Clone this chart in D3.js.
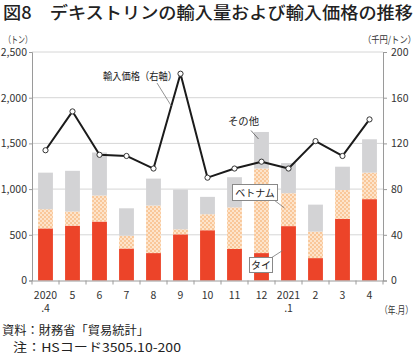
<!DOCTYPE html>
<html><head><meta charset="utf-8">
<script src="https://cdn.jsdelivr.net/npm/d3@7"></script>
<style>
html,body{margin:0;padding:0;background:#fff;}
svg{display:block;font-family:"Noto Sans CJK JP","Noto Sans",sans-serif;}
</style></head>
<body>
<svg id="c" width="420" height="356"></svg>
<script>
// ---- data ----
const categories = ["2020.4","2020.5","2020.6","2020.7","2020.8","2020.9","2020.10","2020.11","2020.12","2021.1","2021.2","2021.3","2021.4"];
const tickLine1 = ["2020","5","6","7","8","9","10","11","12","2021","2","3","4"];
const tickLine2 = [".4","","","","","","","","",".1","","",""];
const thai    = [570,600,645,350,300,505,550,345,300,595,245,675,890];
const vietnam = [210,155,285,140,520, 55,175,455,925,360,290,315,290];
const other   = [400,445,470,300,295,435,190,330,400,330,295,255,365];
const price   = [114,148,110,109, 98,181, 90, 98,104, 98,122,109,141];
const leftTicks  = [0,500,1000,1500,2000,2500];
const rightTicks = [0,40,80,120,160,200];

const svg = d3.select("#c");
const FONT = '"Noto Sans CJK JP","Noto Sans",sans-serif';
const L = 32, R = 383, T = 52, B = 280.5;

const x = d3.scaleBand().domain(categories).range([L, R]).paddingInner(0.45).paddingOuter(0.225);
const xb = d3.scaleBand().domain(categories).range([L, R]);
const yL = d3.scaleLinear().domain([0, 2500]).range([B, T]);
const yR = d3.scaleLinear().domain([0, 200]).range([B, T]);

// pattern for Vietnam
const defs = svg.append("defs");
const pat = defs.append("pattern").attr("id","dots").attr("patternUnits","userSpaceOnUse")
  .attr("width",4).attr("height",4);
pat.append("rect").attr("width",4).attr("height",4).attr("fill","#fde4cb");
pat.append("circle").attr("cx",1).attr("cy",1).attr("r",1).attr("fill","#f8bd88");
pat.append("circle").attr("cx",3).attr("cy",3).attr("r",1).attr("fill","#f8bd88");

// title
svg.append("text").attr("x",3).attr("y",19).attr("font-size",17).attr("font-weight",500)
  .attr("fill","#222").attr("textLength",410).attr("lengthAdjust","spacingAndGlyphs")
  .text("図8　デキストリンの輸入量および輸入価格の推移");

// gridlines
svg.append("g").selectAll("line").data(leftTicks.slice(1)).join("line")
  .attr("x1",L).attr("x2",R).attr("y1",d=>yL(d)).attr("y2",d=>yL(d))
  .attr("stroke","#d6d6d6").attr("stroke-width",1);

// stacked bars
const stackData = categories.map((c,i)=>({cat:c, thai:thai[i], vietnam:vietnam[i], other:other[i]}));
const series = d3.stack().keys(["thai","vietnam","other"])(stackData);
const fills = {thai:"#ec4429", vietnam:"url(#dots)", other:"#d3d3d5"};
svg.append("g").selectAll("g").data(series).join("g")
  .attr("fill", d=>fills[d.key])
  .selectAll("rect").data(d=>d).join("rect")
  .attr("x", d=>x(d.data.cat)).attr("width", x.bandwidth())
  .attr("y", d=>yL(d[1])).attr("height", d=>yL(d[0])-yL(d[1]));

// left axis
const axL = svg.append("g").attr("transform",`translate(${L},0)`)
  .call(d3.axisLeft(yL).tickValues(leftTicks).tickSize(3).tickPadding(2).tickFormat(d3.format(",")));
// right axis
const axR = svg.append("g").attr("transform",`translate(${R},0)`)
  .call(d3.axisRight(yR).tickValues(rightTicks).tickSize(4).tickPadding(4));
// bottom axis
const axB = svg.append("g").attr("transform",`translate(0,${B})`)
  .call(d3.axisBottom(xb).tickSize(0).tickFormat(""));
[axL,axR,axB].forEach(a=>{
  a.select(".domain").attr("stroke","#9a9a9a");
  a.selectAll(".tick line").attr("stroke","#9a9a9a");
  a.selectAll("text").attr("font-family",FONT).attr("font-size",10.5).attr("fill","#333");
});
// x tick marks at band boundaries
svg.append("g").selectAll("line").data(categories).join("line")
  .attr("x1",d=>xb(d)).attr("x2",d=>xb(d)).attr("y1",B).attr("y2",B+4)
  .attr("stroke","#9a9a9a");
svg.append("line").attr("x1",R).attr("x2",R).attr("y1",B).attr("y2",B+4).attr("stroke","#9a9a9a");
// x labels
const xl = svg.append("g").attr("font-size",10.5).attr("fill","#333").attr("text-anchor","middle");
xl.selectAll("text.l1").data(categories).join("text").attr("class","l1")
  .attr("x",d=>xb(d)+xb.bandwidth()/2).attr("y",B+18).text((d,i)=>tickLine1[i]);
xl.selectAll("text.l2").data(categories).join("text").attr("class","l2")
  .attr("x",d=>xb(d)+xb.bandwidth()/2).attr("y",B+31).text((d,i)=>tickLine2[i]);

// unit labels
svg.append("text").attr("x",4).attr("y",43).attr("font-size",9.5).attr("fill","#333")
  .attr("textLength",28).attr("lengthAdjust","spacingAndGlyphs").text("（トン）");
svg.append("text").attr("x",363).attr("y",43).attr("font-size",9.5).attr("fill","#333")
  .attr("textLength",53).attr("lengthAdjust","spacingAndGlyphs").text("（千円/トン）");
svg.append("text").attr("x",380).attr("y",314).attr("font-size",10).attr("fill","#333")
  .attr("textLength",33).attr("lengthAdjust","spacingAndGlyphs").text("（年.月）");

// price line
const cx = c => xb(c)+xb.bandwidth()/2;
const line = d3.line().x((d,i)=>cx(categories[i])).y(d=>yR(d));
svg.append("path").datum(price).attr("d",line).attr("fill","none")
  .attr("stroke","#1b1b1b").attr("stroke-width",2).attr("stroke-linejoin","round");
svg.append("g").selectAll("circle").data(price).join("circle")
  .attr("cx",(d,i)=>cx(categories[i])).attr("cy",d=>yR(d)).attr("r",2.6)
  .attr("fill","#fff").attr("stroke","#333").attr("stroke-width",1);

// annotations: leader lines
const t = 0.66, i8 = 4, i9 = 5;
const px = cx(categories[i8]) + t*(cx(categories[i9])-cx(categories[i8]));
const py = yR(price[i8]) + t*(yR(price[i9])-yR(price[i8]));
const c12 = categories[8];
const c21 = categories[9];
svg.append("line").attr("x1",157).attr("y1",83).attr("x2",px).attr("y2",py).attr("stroke","#777").attr("stroke-width",0.8);
svg.append("line").attr("x1",251).attr("y1",130.5).attr("x2",cx(c12)-3).attr("y2",yL(thai[8]+vietnam[8]+other[8])+7)
  .attr("stroke","#555").attr("stroke-width",0.8);
svg.append("line").attr("x1",274).attr("y1",200).attr("x2",cx(c21)-4).attr("y2",yL(thai[9]+vietnam[9]*0.55))
  .attr("stroke","#777").attr("stroke-width",0.8);
svg.append("line").attr("x1",271).attr("y1",258).attr("x2",cx(c21)-6).attr("y2",yL(thai[9]*0.55))
  .attr("stroke","#777").attr("stroke-width",0.8);
// boxes
svg.append("rect").attr("x",232.5).attr("y",184.5).attr("width",45).attr("height",16)
  .attr("fill","#fff").attr("stroke","#888").attr("stroke-width",1);
svg.append("rect").attr("x",249.5).attr("y",257.5).attr("width",23).attr("height",15)
  .attr("fill","#fff").attr("stroke","#888").attr("stroke-width",1);
// texts
const ann = svg.append("g").attr("font-size",10.5).attr("fill","#222");
ann.append("text").attr("x",103).attr("y",80).attr("textLength",74).attr("lengthAdjust","spacingAndGlyphs")
  .text("輸入価格（右軸）");
ann.append("text").attr("x",228).attr("y",125).attr("textLength",31).attr("lengthAdjust","spacingAndGlyphs").text("その他");
ann.append("text").attr("x",255).attr("y",196.5).attr("text-anchor","middle").attr("font-size",10).text("ベトナム");
ann.append("text").attr("x",261).attr("y",269).attr("text-anchor","middle").attr("font-size",10).text("タイ");

// notes
svg.append("text").attr("x",2).attr("y",335).attr("font-size",12).attr("fill","#222")
  .attr("textLength",147).attr("lengthAdjust","spacingAndGlyphs").text("資料：財務省「貿易統計」");
svg.append("text").attr("x",13).attr("y",352).attr("font-size",12).attr("fill","#222")
  .attr("textLength",168).attr("lengthAdjust","spacingAndGlyphs").text("注：HSコード3505.10-200");
</script>
</body></html>
